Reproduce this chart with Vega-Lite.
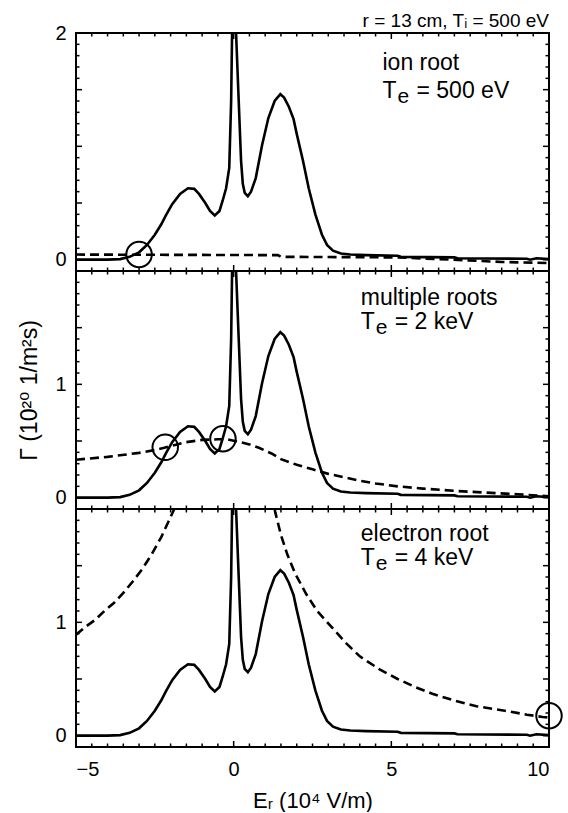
{
  "$schema": "https://vega.github.io/schema/vega-lite/v6.json",
  "background": "white",
  "padding": {"left": 17, "top": 11, "right": 0, "bottom": 0},
  "config": {
    "view": {"stroke": "black", "strokeWidth": 2},
    "font": "Liberation Sans, DejaVu Sans, sans-serif",
    "axis": {"grid": false, "domain": false, "tickColor": "black", "tickWidth": 1.5, "labelColor": "black", "titleColor": "black", "labelFontSize": 20, "titleFontSize": 22, "titleFontWeight": "normal"},
    "title": {"fontWeight": "normal", "color": "black"}
  },
  "datasets": {
    "xticks": [
      {"v": -5, "kind": "major"}, {"v": -4.5, "kind": "minor"}, {"v": -4, "kind": "minor"}, {"v": -3.5, "kind": "minor"}, {"v": -3, "kind": "minor"}, {"v": -2.5, "kind": "minor"}, {"v": -2, "kind": "minor"}, {"v": -1.5, "kind": "minor"}, {"v": -1, "kind": "minor"}, {"v": -0.5, "kind": "minor"}, {"v": 0, "kind": "major"}, {"v": 0.5, "kind": "minor"}, {"v": 1, "kind": "minor"}, {"v": 1.5, "kind": "minor"}, {"v": 2, "kind": "minor"}, {"v": 2.5, "kind": "minor"}, {"v": 3, "kind": "minor"}, {"v": 3.5, "kind": "minor"}, {"v": 4, "kind": "minor"}, {"v": 4.5, "kind": "minor"}, {"v": 5, "kind": "major"}, {"v": 5.5, "kind": "minor"}, {"v": 6, "kind": "minor"}, {"v": 6.5, "kind": "minor"}, {"v": 7, "kind": "minor"}, {"v": 7.5, "kind": "minor"}, {"v": 8, "kind": "minor"}, {"v": 8.5, "kind": "minor"}, {"v": 9, "kind": "minor"}, {"v": 9.5, "kind": "minor"}, {"v": 10, "kind": "major"}
    ],
    "yticks": [
      {"v": 0, "kind": "major"}, {"v": 0.1, "kind": "minor"}, {"v": 0.2, "kind": "minor"}, {"v": 0.3, "kind": "minor"}, {"v": 0.4, "kind": "minor"}, {"v": 0.5, "kind": "major"}, {"v": 0.6, "kind": "minor"}, {"v": 0.7, "kind": "minor"}, {"v": 0.8, "kind": "minor"}, {"v": 0.9, "kind": "minor"}, {"v": 1, "kind": "major"}, {"v": 1.1, "kind": "minor"}, {"v": 1.2, "kind": "minor"}, {"v": 1.3, "kind": "minor"}, {"v": 1.4, "kind": "minor"}, {"v": 1.5, "kind": "major"}, {"v": 1.6, "kind": "minor"}, {"v": 1.7, "kind": "minor"}, {"v": 1.8, "kind": "minor"}, {"v": 1.9, "kind": "minor"}, {"v": 2, "kind": "major"}
    ],
    "solid": [
      {"x": -5, "y": 0}, {"x": -4, "y": 0}, {"x": -3.6, "y": 0.005}, {"x": -3.3, "y": 0.025}, {"x": -3.0, "y": 0.065}, {"x": -2.75, "y": 0.13}, {"x": -2.5, "y": 0.22}, {"x": -2.3, "y": 0.31}, {"x": -2.15, "y": 0.39}, {"x": -1.95, "y": 0.49}, {"x": -1.7, "y": 0.58}, {"x": -1.45, "y": 0.63}, {"x": -1.25, "y": 0.625}, {"x": -1.1, "y": 0.58}, {"x": -0.9, "y": 0.5}, {"x": -0.75, "y": 0.43}, {"x": -0.6, "y": 0.39}, {"x": -0.45, "y": 0.43}, {"x": -0.35, "y": 0.52}, {"x": -0.24, "y": 0.63}, {"x": -0.14, "y": 0.81}, {"x": -0.08, "y": 1.4}, {"x": -0.05, "y": 2.0}, {"x": -0.02, "y": 4}, {"x": 0.04, "y": 4}, {"x": 0.076, "y": 2.0}, {"x": 0.16, "y": 1.4}, {"x": 0.235, "y": 0.87}, {"x": 0.29, "y": 0.67}, {"x": 0.35, "y": 0.59}, {"x": 0.45, "y": 0.56}, {"x": 0.55, "y": 0.6}, {"x": 0.7, "y": 0.72}, {"x": 0.9, "y": 1.01}, {"x": 1.1, "y": 1.25}, {"x": 1.3, "y": 1.4}, {"x": 1.48, "y": 1.46}, {"x": 1.6, "y": 1.43}, {"x": 1.75, "y": 1.35}, {"x": 1.9, "y": 1.24}, {"x": 2.0, "y": 1.11}, {"x": 2.2, "y": 0.87}, {"x": 2.38, "y": 0.63}, {"x": 2.59, "y": 0.4}, {"x": 2.8, "y": 0.22}, {"x": 2.96, "y": 0.13}, {"x": 3.15, "y": 0.08}, {"x": 3.4, "y": 0.055}, {"x": 3.7, "y": 0.045}, {"x": 4.2, "y": 0.04}, {"x": 5.2, "y": 0.035}, {"x": 5.3, "y": 0.025}, {"x": 7.0, "y": 0.02}, {"x": 7.1, "y": 0.012}, {"x": 9.3, "y": 0.008}, {"x": 9.4, "y": 0.0}, {"x": 9.6, "y": 0.012}, {"x": 10, "y": 0.005}
    ],
    "dashed": [
      {"panel": "ion", "branch": "a", "x": -5, "y": 0.045}, {"panel": "ion", "branch": "a", "x": 1.4, "y": 0.04}, {"panel": "ion", "branch": "a", "x": 1.5, "y": 0.025}, {"panel": "ion", "branch": "a", "x": 5.2, "y": 0.02}, {"panel": "ion", "branch": "a", "x": 6.9, "y": 0.0}, {"panel": "ion", "branch": "a", "x": 8.5, "y": -0.02}, {"panel": "ion", "branch": "a", "x": 10, "y": -0.03},
      {"panel": "multi", "branch": "a", "x": -5, "y": 0.335}, {"panel": "multi", "branch": "a", "x": -4, "y": 0.36}, {"panel": "multi", "branch": "a", "x": -3, "y": 0.395}, {"panel": "multi", "branch": "a", "x": -2.5, "y": 0.42}, {"panel": "multi", "branch": "a", "x": -2.2, "y": 0.44}, {"panel": "multi", "branch": "a", "x": -1.8, "y": 0.47}, {"panel": "multi", "branch": "a", "x": -1.5, "y": 0.49}, {"panel": "multi", "branch": "a", "x": -1.0, "y": 0.51}, {"panel": "multi", "branch": "a", "x": -0.5, "y": 0.515}, {"panel": "multi", "branch": "a", "x": -0.2, "y": 0.515}, {"panel": "multi", "branch": "a", "x": 0.2, "y": 0.49}, {"panel": "multi", "branch": "a", "x": 0.5, "y": 0.47}, {"panel": "multi", "branch": "a", "x": 0.8, "y": 0.44}, {"panel": "multi", "branch": "a", "x": 1.2, "y": 0.39}, {"panel": "multi", "branch": "a", "x": 1.5, "y": 0.34}, {"panel": "multi", "branch": "a", "x": 2.0, "y": 0.29}, {"panel": "multi", "branch": "a", "x": 2.5, "y": 0.25}, {"panel": "multi", "branch": "a", "x": 3.0, "y": 0.21}, {"panel": "multi", "branch": "a", "x": 3.5, "y": 0.18}, {"panel": "multi", "branch": "a", "x": 4.0, "y": 0.15}, {"panel": "multi", "branch": "a", "x": 4.5, "y": 0.125}, {"panel": "multi", "branch": "a", "x": 5.2, "y": 0.1}, {"panel": "multi", "branch": "a", "x": 6.0, "y": 0.08}, {"panel": "multi", "branch": "a", "x": 7.0, "y": 0.06}, {"panel": "multi", "branch": "a", "x": 8.0, "y": 0.045}, {"panel": "multi", "branch": "a", "x": 9.0, "y": 0.03}, {"panel": "multi", "branch": "a", "x": 10, "y": 0.012},
      {"panel": "electron", "branch": "a", "x": -5, "y": 0.89}, {"panel": "electron", "branch": "a", "x": -4.7, "y": 0.96}, {"panel": "electron", "branch": "a", "x": -4.4, "y": 1.02}, {"panel": "electron", "branch": "a", "x": -4.1, "y": 1.1}, {"panel": "electron", "branch": "a", "x": -3.8, "y": 1.17}, {"panel": "electron", "branch": "a", "x": -3.5, "y": 1.26}, {"panel": "electron", "branch": "a", "x": -3.2, "y": 1.36}, {"panel": "electron", "branch": "a", "x": -2.9, "y": 1.47}, {"panel": "electron", "branch": "a", "x": -2.6, "y": 1.6}, {"panel": "electron", "branch": "a", "x": -2.3, "y": 1.75}, {"panel": "electron", "branch": "a", "x": -2.0, "y": 1.93}, {"panel": "electron", "branch": "a", "x": -1.85, "y": 2.02}, {"panel": "electron", "branch": "a", "x": -1.7, "y": 2.12},
      {"panel": "electron", "branch": "b", "x": 1.22, "y": 2.12}, {"panel": "electron", "branch": "b", "x": 1.32, "y": 1.97}, {"panel": "electron", "branch": "b", "x": 1.5, "y": 1.77}, {"panel": "electron", "branch": "b", "x": 1.7, "y": 1.6}, {"panel": "electron", "branch": "b", "x": 1.95, "y": 1.43}, {"panel": "electron", "branch": "b", "x": 2.3, "y": 1.25}, {"panel": "electron", "branch": "b", "x": 2.65, "y": 1.1}, {"panel": "electron", "branch": "b", "x": 3.1, "y": 0.96}, {"panel": "electron", "branch": "b", "x": 3.55, "y": 0.82}, {"panel": "electron", "branch": "b", "x": 4.0, "y": 0.7}, {"panel": "electron", "branch": "b", "x": 4.6, "y": 0.59}, {"panel": "electron", "branch": "b", "x": 5.2, "y": 0.5}, {"panel": "electron", "branch": "b", "x": 5.75, "y": 0.43}, {"panel": "electron", "branch": "b", "x": 6.3, "y": 0.37}, {"panel": "electron", "branch": "b", "x": 7.0, "y": 0.31}, {"panel": "electron", "branch": "b", "x": 7.7, "y": 0.26}, {"panel": "electron", "branch": "b", "x": 8.6, "y": 0.22}, {"panel": "electron", "branch": "b", "x": 9.3, "y": 0.185}, {"panel": "electron", "branch": "b", "x": 9.8, "y": 0.165}, {"panel": "electron", "branch": "b", "x": 10, "y": 0.16}
    ],
    "roots": [
      {"panel": "ion", "x": -3.0, "y": 0.045},
      {"panel": "multi", "x": -2.17, "y": 0.444},
      {"panel": "multi", "x": -0.34, "y": 0.52},
      {"panel": "electron", "x": 10, "y": 0.176}
    ],
    "notes": [
      {"panel": "ion", "role": "main", "x": 4.72, "y": 1.67, "text": "ion root"},
      {"panel": "ion", "role": "main", "x": 4.72, "y": 1.43, "text": "T"},
      {"panel": "ion", "role": "sub", "x": 4.72, "y": 1.43, "text": "e"},
      {"panel": "ion", "role": "rest", "x": 4.72, "y": 1.43, "text": "= 500 eV"},
      {"panel": "multi", "role": "main", "x": 4.03, "y": 1.7, "text": "multiple roots"},
      {"panel": "multi", "role": "main", "x": 4.03, "y": 1.49, "text": "T"},
      {"panel": "multi", "role": "sub", "x": 4.03, "y": 1.49, "text": "e"},
      {"panel": "multi", "role": "rest", "x": 4.03, "y": 1.49, "text": "= 2 keV"},
      {"panel": "electron", "role": "main", "x": 4.03, "y": 1.72, "text": "electron root"},
      {"panel": "electron", "role": "main", "x": 4.03, "y": 1.51, "text": "T"},
      {"panel": "electron", "role": "sub", "x": 4.03, "y": 1.51, "text": "e"},
      {"panel": "electron", "role": "rest", "x": 4.03, "y": 1.51, "text": "= 4 keV"}
    ]
  },
  "spacing": 0,
  "bounds": "flush",
  "vconcat": [
    {
      "width": 473, "height": 238,
      "title": {"text": "r = 13 cm, Tᵢ = 500 eV", "anchor": "end", "fontSize": 19, "offset": -8},
      "layer": [
        {"data": {"name": "xticks"}, "mark": {"type": "tick", "orient": "vertical", "color": "black", "thickness": 1.5, "opacity": 1, "clip": true},
         "encoding": {"x": {"field": "v", "type": "quantitative", "scale": {"domain": [-5, 10], "nice": false, "zero": false}, "axis": null}, "y": {"datum": -0.1, "type": "quantitative", "scale": {"domain": [-0.1, 2], "nice": false, "zero": false}, "axis": null}, "size": {"field": "kind", "type": "ordinal", "scale": {"domain": ["minor", "major"], "range": [7, 12]}, "legend": null}}},
        {"data": {"name": "xticks"}, "mark": {"type": "tick", "orient": "vertical", "color": "black", "thickness": 1.5, "opacity": 1, "clip": true},
         "encoding": {"x": {"field": "v", "type": "quantitative", "scale": {"domain": [-5, 10], "nice": false, "zero": false}, "axis": null}, "y": {"datum": 2, "type": "quantitative", "scale": {"domain": [-0.1, 2], "nice": false, "zero": false}, "axis": null}, "size": {"field": "kind", "type": "ordinal", "scale": {"domain": ["minor", "major"], "range": [7, 12]}, "legend": null}}},
        {"data": {"name": "yticks"}, "mark": {"type": "tick", "orient": "horizontal", "color": "black", "thickness": 1.5, "opacity": 1, "clip": true},
         "encoding": {"y": {"field": "v", "type": "quantitative", "scale": {"domain": [-0.1, 2], "nice": false, "zero": false}, "axis": null}, "x": {"datum": -5, "type": "quantitative", "scale": {"domain": [-5, 10], "nice": false, "zero": false}, "axis": null}, "size": {"field": "kind", "type": "ordinal", "scale": {"domain": ["minor", "major"], "range": [7, 12]}, "legend": null}}},
        {"data": {"name": "yticks"}, "mark": {"type": "tick", "orient": "horizontal", "color": "black", "thickness": 1.5, "opacity": 1, "clip": true},
         "encoding": {"y": {"field": "v", "type": "quantitative", "scale": {"domain": [-0.1, 2], "nice": false, "zero": false}, "axis": null}, "x": {"datum": 10, "type": "quantitative", "scale": {"domain": [-5, 10], "nice": false, "zero": false}, "axis": null}, "size": {"field": "kind", "type": "ordinal", "scale": {"domain": ["minor", "major"], "range": [7, 12]}, "legend": null}}},
        {"data": {"name": "solid"}, "mark": {"type": "line", "strokeOpacity": 0, "clip": true},
         "encoding": {
           "x": {"field": "x", "type": "quantitative", "scale": {"domain": [-5, 10], "nice": false, "zero": false}, "axis": null},
           "y": {"field": "y", "type": "quantitative", "scale": {"domain": [-0.1, 2], "nice": false, "zero": false}, "axis": {"orient": "left", "values": [0, 1, 2], "format": "d", "ticks": false, "labelPadding": 10, "title": null}}
         }},
        {"data": {"name": "solid"}, "mark": {"type": "line", "color": "black", "strokeWidth": 2.6, "clip": true},
         "encoding": {
           "x": {"field": "x", "type": "quantitative", "scale": {"domain": [-5, 10], "nice": false, "zero": false}, "axis": null},
           "y": {"field": "y", "type": "quantitative", "scale": {"domain": [-0.1, 2], "nice": false, "zero": false}, "axis": null}
         }},
        {"data": {"name": "dashed"}, "transform": [{"filter": "datum.panel === 'ion'"}], "mark": {"type": "line", "color": "black", "strokeWidth": 2.6, "strokeDash": [9, 5], "clip": true},
         "encoding": {
           "x": {"field": "x", "type": "quantitative", "scale": {"domain": [-5, 10], "nice": false, "zero": false}, "axis": null},
           "y": {"field": "y", "type": "quantitative", "scale": {"domain": [-0.1, 2], "nice": false, "zero": false}, "axis": null},
           "detail": {"field": "branch"}
         }},
        {"data": {"name": "roots"}, "transform": [{"filter": "datum.panel === 'ion'"}], "mark": {"type": "point", "shape": "circle", "filled": false, "size": 650, "stroke": "black", "strokeWidth": 2, "opacity": 1, "clip": false},
         "encoding": {
           "x": {"field": "x", "type": "quantitative", "scale": {"domain": [-5, 10], "nice": false, "zero": false}, "axis": null},
           "y": {"field": "y", "type": "quantitative", "scale": {"domain": [-0.1, 2], "nice": false, "zero": false}, "axis": null}
         }},
        {"data": {"name": "notes"}, "transform": [{"filter": "datum.panel === 'ion' && datum.role === 'main'"}], "mark": {"type": "text", "align": "left", "baseline": "alphabetic", "fontSize": 23, "color": "black"},
         "encoding": {
           "x": {"field": "x", "type": "quantitative", "scale": {"domain": [-5, 10], "nice": false, "zero": false}, "axis": null},
           "y": {"field": "y", "type": "quantitative", "scale": {"domain": [-0.1, 2], "nice": false, "zero": false}, "axis": null},
           "text": {"field": "text"}
         }},
        {"data": {"name": "notes"}, "transform": [{"filter": "datum.panel === 'ion' && datum.role === 'sub'"}], "mark": {"type": "text", "align": "left", "baseline": "alphabetic", "fontSize": 21, "dx": 15, "dy": 5, "color": "black"},
         "encoding": {
           "x": {"field": "x", "type": "quantitative", "scale": {"domain": [-5, 10], "nice": false, "zero": false}, "axis": null},
           "y": {"field": "y", "type": "quantitative", "scale": {"domain": [-0.1, 2], "nice": false, "zero": false}, "axis": null},
           "text": {"field": "text"}
         }},
        {"data": {"name": "notes"}, "transform": [{"filter": "datum.panel === 'ion' && datum.role === 'rest'"}], "mark": {"type": "text", "align": "left", "baseline": "alphabetic", "fontSize": 23, "dx": 34, "color": "black"},
         "encoding": {
           "x": {"field": "x", "type": "quantitative", "scale": {"domain": [-5, 10], "nice": false, "zero": false}, "axis": null},
           "y": {"field": "y", "type": "quantitative", "scale": {"domain": [-0.1, 2], "nice": false, "zero": false}, "axis": null},
           "text": {"field": "text"}
         }}
      ],
      "resolve": {"axis": {"x": "independent", "y": "independent"}}
    },
    {
      "width": 473, "height": 238,
      "layer": [
        {"data": {"name": "xticks"}, "mark": {"type": "tick", "orient": "vertical", "color": "black", "thickness": 1.5, "opacity": 1, "clip": true},
         "encoding": {"x": {"field": "v", "type": "quantitative", "scale": {"domain": [-5, 10], "nice": false, "zero": false}, "axis": null}, "y": {"datum": -0.1, "type": "quantitative", "scale": {"domain": [-0.1, 2], "nice": false, "zero": false}, "axis": null}, "size": {"field": "kind", "type": "ordinal", "scale": {"domain": ["minor", "major"], "range": [7, 12]}, "legend": null}}},
        {"data": {"name": "xticks"}, "mark": {"type": "tick", "orient": "vertical", "color": "black", "thickness": 1.5, "opacity": 1, "clip": true},
         "encoding": {"x": {"field": "v", "type": "quantitative", "scale": {"domain": [-5, 10], "nice": false, "zero": false}, "axis": null}, "y": {"datum": 2, "type": "quantitative", "scale": {"domain": [-0.1, 2], "nice": false, "zero": false}, "axis": null}, "size": {"field": "kind", "type": "ordinal", "scale": {"domain": ["minor", "major"], "range": [7, 12]}, "legend": null}}},
        {"data": {"name": "yticks"}, "mark": {"type": "tick", "orient": "horizontal", "color": "black", "thickness": 1.5, "opacity": 1, "clip": true},
         "encoding": {"y": {"field": "v", "type": "quantitative", "scale": {"domain": [-0.1, 2], "nice": false, "zero": false}, "axis": null}, "x": {"datum": -5, "type": "quantitative", "scale": {"domain": [-5, 10], "nice": false, "zero": false}, "axis": null}, "size": {"field": "kind", "type": "ordinal", "scale": {"domain": ["minor", "major"], "range": [7, 12]}, "legend": null}}},
        {"data": {"name": "yticks"}, "mark": {"type": "tick", "orient": "horizontal", "color": "black", "thickness": 1.5, "opacity": 1, "clip": true},
         "encoding": {"y": {"field": "v", "type": "quantitative", "scale": {"domain": [-0.1, 2], "nice": false, "zero": false}, "axis": null}, "x": {"datum": 10, "type": "quantitative", "scale": {"domain": [-5, 10], "nice": false, "zero": false}, "axis": null}, "size": {"field": "kind", "type": "ordinal", "scale": {"domain": ["minor", "major"], "range": [7, 12]}, "legend": null}}},
        {"data": {"name": "solid"}, "mark": {"type": "line", "strokeOpacity": 0, "clip": true},
         "encoding": {
           "x": {"field": "x", "type": "quantitative", "scale": {"domain": [-5, 10], "nice": false, "zero": false}, "axis": null},
           "y": {"field": "y", "type": "quantitative", "scale": {"domain": [-0.1, 2], "nice": false, "zero": false}, "axis": {"orient": "left", "values": [0, 1], "format": "d", "ticks": false, "labelPadding": 10, "title": "Γ (10²⁰ 1/m²s)", "titleFontSize": 23, "titlePadding": 13}}
         }},
        {"data": {"name": "solid"}, "mark": {"type": "line", "color": "black", "strokeWidth": 2.6, "clip": true},
         "encoding": {
           "x": {"field": "x", "type": "quantitative", "scale": {"domain": [-5, 10], "nice": false, "zero": false}, "axis": null},
           "y": {"field": "y", "type": "quantitative", "scale": {"domain": [-0.1, 2], "nice": false, "zero": false}, "axis": null}
         }},
        {"data": {"name": "dashed"}, "transform": [{"filter": "datum.panel === 'multi'"}], "mark": {"type": "line", "color": "black", "strokeWidth": 2.6, "strokeDash": [9, 5], "clip": true},
         "encoding": {
           "x": {"field": "x", "type": "quantitative", "scale": {"domain": [-5, 10], "nice": false, "zero": false}, "axis": null},
           "y": {"field": "y", "type": "quantitative", "scale": {"domain": [-0.1, 2], "nice": false, "zero": false}, "axis": null},
           "detail": {"field": "branch"}
         }},
        {"data": {"name": "roots"}, "transform": [{"filter": "datum.panel === 'multi'"}], "mark": {"type": "point", "shape": "circle", "filled": false, "size": 650, "stroke": "black", "strokeWidth": 2, "opacity": 1, "clip": false},
         "encoding": {
           "x": {"field": "x", "type": "quantitative", "scale": {"domain": [-5, 10], "nice": false, "zero": false}, "axis": null},
           "y": {"field": "y", "type": "quantitative", "scale": {"domain": [-0.1, 2], "nice": false, "zero": false}, "axis": null}
         }},
        {"data": {"name": "notes"}, "transform": [{"filter": "datum.panel === 'multi' && datum.role === 'main'"}], "mark": {"type": "text", "align": "left", "baseline": "alphabetic", "fontSize": 23, "color": "black"},
         "encoding": {
           "x": {"field": "x", "type": "quantitative", "scale": {"domain": [-5, 10], "nice": false, "zero": false}, "axis": null},
           "y": {"field": "y", "type": "quantitative", "scale": {"domain": [-0.1, 2], "nice": false, "zero": false}, "axis": null},
           "text": {"field": "text"}
         }},
        {"data": {"name": "notes"}, "transform": [{"filter": "datum.panel === 'multi' && datum.role === 'sub'"}], "mark": {"type": "text", "align": "left", "baseline": "alphabetic", "fontSize": 21, "dx": 15, "dy": 5, "color": "black"},
         "encoding": {
           "x": {"field": "x", "type": "quantitative", "scale": {"domain": [-5, 10], "nice": false, "zero": false}, "axis": null},
           "y": {"field": "y", "type": "quantitative", "scale": {"domain": [-0.1, 2], "nice": false, "zero": false}, "axis": null},
           "text": {"field": "text"}
         }},
        {"data": {"name": "notes"}, "transform": [{"filter": "datum.panel === 'multi' && datum.role === 'rest'"}], "mark": {"type": "text", "align": "left", "baseline": "alphabetic", "fontSize": 23, "dx": 34, "color": "black"},
         "encoding": {
           "x": {"field": "x", "type": "quantitative", "scale": {"domain": [-5, 10], "nice": false, "zero": false}, "axis": null},
           "y": {"field": "y", "type": "quantitative", "scale": {"domain": [-0.1, 2], "nice": false, "zero": false}, "axis": null},
           "text": {"field": "text"}
         }}
      ],
      "resolve": {"axis": {"x": "independent", "y": "independent"}}
    },
    {
      "width": 473, "height": 238,
      "layer": [
        {"data": {"name": "xticks"}, "mark": {"type": "tick", "orient": "vertical", "color": "black", "thickness": 1.5, "opacity": 1, "clip": true},
         "encoding": {"x": {"field": "v", "type": "quantitative", "scale": {"domain": [-5, 10], "nice": false, "zero": false}, "axis": null}, "y": {"datum": -0.1, "type": "quantitative", "scale": {"domain": [-0.1, 2], "nice": false, "zero": false}, "axis": null}, "size": {"field": "kind", "type": "ordinal", "scale": {"domain": ["minor", "major"], "range": [7, 12]}, "legend": null}}},
        {"data": {"name": "xticks"}, "mark": {"type": "tick", "orient": "vertical", "color": "black", "thickness": 1.5, "opacity": 1, "clip": true},
         "encoding": {"x": {"field": "v", "type": "quantitative", "scale": {"domain": [-5, 10], "nice": false, "zero": false}, "axis": null}, "y": {"datum": 2, "type": "quantitative", "scale": {"domain": [-0.1, 2], "nice": false, "zero": false}, "axis": null}, "size": {"field": "kind", "type": "ordinal", "scale": {"domain": ["minor", "major"], "range": [7, 12]}, "legend": null}}},
        {"data": {"name": "yticks"}, "mark": {"type": "tick", "orient": "horizontal", "color": "black", "thickness": 1.5, "opacity": 1, "clip": true},
         "encoding": {"y": {"field": "v", "type": "quantitative", "scale": {"domain": [-0.1, 2], "nice": false, "zero": false}, "axis": null}, "x": {"datum": -5, "type": "quantitative", "scale": {"domain": [-5, 10], "nice": false, "zero": false}, "axis": null}, "size": {"field": "kind", "type": "ordinal", "scale": {"domain": ["minor", "major"], "range": [7, 12]}, "legend": null}}},
        {"data": {"name": "yticks"}, "mark": {"type": "tick", "orient": "horizontal", "color": "black", "thickness": 1.5, "opacity": 1, "clip": true},
         "encoding": {"y": {"field": "v", "type": "quantitative", "scale": {"domain": [-0.1, 2], "nice": false, "zero": false}, "axis": null}, "x": {"datum": 10, "type": "quantitative", "scale": {"domain": [-5, 10], "nice": false, "zero": false}, "axis": null}, "size": {"field": "kind", "type": "ordinal", "scale": {"domain": ["minor", "major"], "range": [7, 12]}, "legend": null}}},
        {"data": {"name": "solid"}, "mark": {"type": "line", "strokeOpacity": 0, "clip": true},
         "encoding": {
           "x": {"field": "x", "type": "quantitative", "scale": {"domain": [-5, 10], "nice": false, "zero": false}, "axis": {"orient": "bottom", "values": [-5, 0, 5, 10], "format": "d", "ticks": false, "labelPadding": 12, "title": "Eᵣ (10⁴ V/m)", "titlePadding": 11}},
           "y": {"field": "y", "type": "quantitative", "scale": {"domain": [-0.1, 2], "nice": false, "zero": false}, "axis": {"orient": "left", "values": [0, 1], "format": "d", "ticks": false, "labelPadding": 10, "title": null}}
         }},
        {"data": {"name": "solid"}, "mark": {"type": "line", "color": "black", "strokeWidth": 2.6, "clip": true},
         "encoding": {
           "x": {"field": "x", "type": "quantitative", "scale": {"domain": [-5, 10], "nice": false, "zero": false}, "axis": null},
           "y": {"field": "y", "type": "quantitative", "scale": {"domain": [-0.1, 2], "nice": false, "zero": false}, "axis": null}
         }},
        {"data": {"name": "dashed"}, "transform": [{"filter": "datum.panel === 'electron'"}], "mark": {"type": "line", "color": "black", "strokeWidth": 2.6, "strokeDash": [9, 5], "clip": true},
         "encoding": {
           "x": {"field": "x", "type": "quantitative", "scale": {"domain": [-5, 10], "nice": false, "zero": false}, "axis": null},
           "y": {"field": "y", "type": "quantitative", "scale": {"domain": [-0.1, 2], "nice": false, "zero": false}, "axis": null},
           "detail": {"field": "branch"}
         }},
        {"data": {"name": "roots"}, "transform": [{"filter": "datum.panel === 'electron'"}], "mark": {"type": "point", "shape": "circle", "filled": false, "size": 650, "stroke": "black", "strokeWidth": 2, "opacity": 1, "clip": false},
         "encoding": {
           "x": {"field": "x", "type": "quantitative", "scale": {"domain": [-5, 10], "nice": false, "zero": false}, "axis": null},
           "y": {"field": "y", "type": "quantitative", "scale": {"domain": [-0.1, 2], "nice": false, "zero": false}, "axis": null}
         }},
        {"data": {"name": "notes"}, "transform": [{"filter": "datum.panel === 'electron' && datum.role === 'main'"}], "mark": {"type": "text", "align": "left", "baseline": "alphabetic", "fontSize": 23, "color": "black"},
         "encoding": {
           "x": {"field": "x", "type": "quantitative", "scale": {"domain": [-5, 10], "nice": false, "zero": false}, "axis": null},
           "y": {"field": "y", "type": "quantitative", "scale": {"domain": [-0.1, 2], "nice": false, "zero": false}, "axis": null},
           "text": {"field": "text"}
         }},
        {"data": {"name": "notes"}, "transform": [{"filter": "datum.panel === 'electron' && datum.role === 'sub'"}], "mark": {"type": "text", "align": "left", "baseline": "alphabetic", "fontSize": 21, "dx": 15, "dy": 5, "color": "black"},
         "encoding": {
           "x": {"field": "x", "type": "quantitative", "scale": {"domain": [-5, 10], "nice": false, "zero": false}, "axis": null},
           "y": {"field": "y", "type": "quantitative", "scale": {"domain": [-0.1, 2], "nice": false, "zero": false}, "axis": null},
           "text": {"field": "text"}
         }},
        {"data": {"name": "notes"}, "transform": [{"filter": "datum.panel === 'electron' && datum.role === 'rest'"}], "mark": {"type": "text", "align": "left", "baseline": "alphabetic", "fontSize": 23, "dx": 34, "color": "black"},
         "encoding": {
           "x": {"field": "x", "type": "quantitative", "scale": {"domain": [-5, 10], "nice": false, "zero": false}, "axis": null},
           "y": {"field": "y", "type": "quantitative", "scale": {"domain": [-0.1, 2], "nice": false, "zero": false}, "axis": null},
           "text": {"field": "text"}
         }}
      ],
      "resolve": {"axis": {"x": "independent", "y": "independent"}}
    }
  ]
}
